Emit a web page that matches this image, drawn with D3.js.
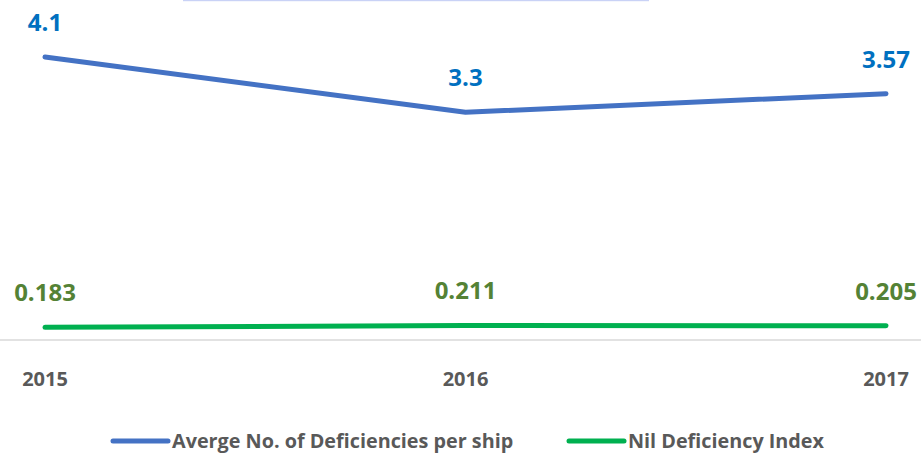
<!DOCTYPE html>
<html>
<head>
<meta charset="utf-8">
<script src="https://cdn.jsdelivr.net/npm/d3@7"></script>
<style>
  body { margin: 0; background: #fff; }
  svg { display: block; font-family: "Open Sans", sans-serif; }
</style>
</head>
<body>
<svg></svg>
<script>
let width = 921;
let height = 457;

// data
let years = ['2015', '2016', '2017'];
let avgDeficiencies = [4.1, 3.3, 3.57];
let nilDeficiency = [0.183, 0.211, 0.205];
let avgLabels = ['4.1', '3.3', '3.57'];
let nilLabels = ['0.183', '0.211', '0.205'];
let seriesNames = ['Averge No. of Deficiencies per ship', 'Nil Deficiency Index'];

let svg = d3.select('svg')
  .attr('width', width)
  .attr('height', height);

// faint strip left over at the top (title box edge)
svg.append('rect')
  .attr('x', 183).attr('y', 0)
  .attr('width', 466).attr('height', 1.2)
  .attr('fill', '#c9d2f6');

let x = d3.scalePoint()
  .domain(years)
  .range([45, 886]);

let y = d3.scaleLinear()
  .domain([0, 4.5])
  .range([340, 29.5]);

// category axis line
svg.append('line')
  .attr('x1', 0).attr('x2', width)
  .attr('y1', y(0)).attr('y2', y(0))
  .attr('stroke', '#d9d9d9')
  .attr('stroke-width', 1.5);

let series = [
  {name: seriesNames[0], values: avgDeficiencies, labels: avgLabels, color: '#4472c4', labelColor: '#0070c0'},
  {name: seriesNames[1], values: nilDeficiency, labels: nilLabels, color: '#00b050', labelColor: '#548235'}
];

let line = d3.line()
  .x((d, i) => x(years[i]))
  .y(d => y(d));

series.forEach(s => {
  svg.append('path')
    .datum(s.values)
    .attr('fill', 'none')
    .attr('stroke', s.color)
    .attr('stroke-width', 5)
    .attr('stroke-linecap', 'round')
    .attr('stroke-linejoin', 'round')
    .attr('d', line);

  svg.append('g')
    .selectAll('text')
    .data(s.values)
    .enter()
    .append('text')
      .attr('x', (d, i) => x(years[i]))
      .attr('y', d => y(d) - 26)
      .attr('text-anchor', 'middle')
      .attr('font-size', 24)
      .attr('font-weight', 'bold')
      .attr('fill', s.labelColor)
      .text((d, i) => s.labels[i]);
});

// year labels
svg.append('g')
  .selectAll('text')
  .data(years)
  .enter()
  .append('text')
    .attr('x', d => x(d))
    .attr('y', 386)
    .attr('text-anchor', 'middle')
    .attr('font-size', 20)
    .attr('font-weight', 'bold')
    .attr('fill', '#595959')
    .text(d => d);

// legend
let legendX = [113, 569];
let legend = svg.append('g')
  .selectAll('g')
  .data(series)
  .enter()
  .append('g')
    .attr('transform', (d, i) => `translate(${legendX[i]}, 441)`);

legend.append('line')
  .attr('x1', 0).attr('x2', 55)
  .attr('y1', 0).attr('y2', 0)
  .attr('stroke', d => d.color)
  .attr('stroke-width', 5)
  .attr('stroke-linecap', 'round');

legend.append('text')
  .attr('x', 59)
  .attr('y', 7)
  .attr('font-size', 19.8)
  .attr('font-weight', 'bold')
  .attr('fill', '#595959')
  .text(d => d.name);
</script>
</body>
</html>
